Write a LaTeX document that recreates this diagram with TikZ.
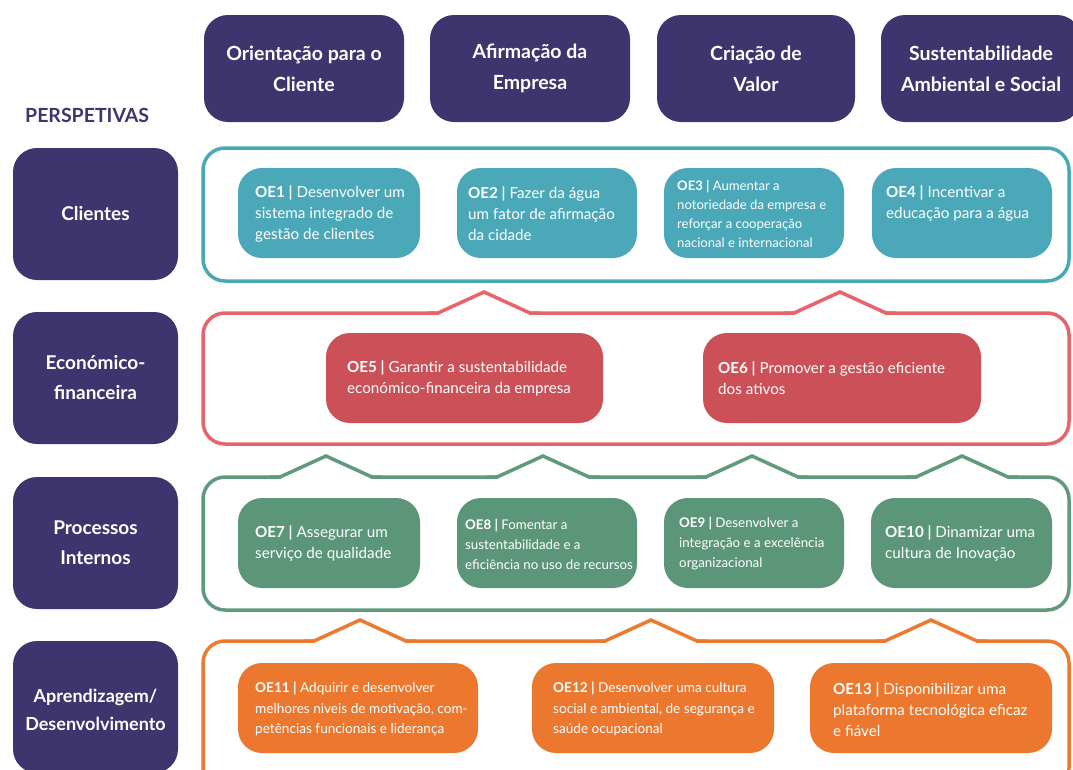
\documentclass[tikz,border=0pt]{standalone}
\usepackage{fontspec}
\setmainfont{Lato}
\definecolor{purp}{HTML}{3E356E}
\definecolor{tealf}{HTML}{4AA8B8}
\definecolor{tealb}{HTML}{49A9B7}
\definecolor{redf}{HTML}{CC5057}
\definecolor{redb}{HTML}{E9636A}
\definecolor{greenf}{HTML}{5C9679}
\definecolor{greenb}{HTML}{5E9A7B}
\definecolor{orangef}{HTML}{EC7830}
\definecolor{orangeb}{HTML}{EC7A2F}
\newcommand\mychev[3]{%
  \draw[white,line width=6pt] ({#2-45},#3) -- ({#2+45},#3);
  \draw[#1,line width=3.5pt,miter limit=10] ({#2-56},#3) -- ({#2-46},#3) -- (#2,{#3-21}) -- ({#2+46},#3) -- ({#2+56},#3);
}
\newcommand\oelab[2]{{\bfseries #1 |} #2}
\begin{document}
\begin{tikzpicture}[x=1pt,y=-1pt,
  hdr/.style={fill=purp, rounded corners=24pt, inner sep=0pt, minimum height=107pt},
  hdrtxt/.style={text=white, font=\bfseries\fontsize{19.5}{31}\selectfont, align=center, inner sep=0pt},
  sidetxt/.style={text=white, font=\bfseries\fontsize{19}{30}\selectfont, align=center, inner sep=0pt},
  side/.style={fill=purp, rounded corners=24pt, inner sep=0pt, minimum width=165pt, minimum height=132pt},
  frame/.style={line width=3.5pt, rounded corners=22pt},
  obox/.style={rounded corners=24pt, inner sep=0pt, minimum height=90pt},
  otxt/.style={text=white, anchor=west, align=left, inner sep=0pt, font=\fontsize{15.2}{21}\selectfont},
  stxt/.style={text=white, anchor=west, align=left, inner sep=0pt, font=\fontsize{13.1}{19}\selectfont},
  mtxt/.style={text=white, anchor=west, align=left, inner sep=0pt, font=\fontsize{13.6}{20.5}\selectfont}
]
\useasboundingbox (0,0) rectangle (1073,769);
\clip (0,0) rectangle (1073,769);
\fill[white] (0,0) rectangle (1073,769);

% headers
\node[hdr, minimum width=200pt] (h1) at (304,68.5) {};
\node[hdr, minimum width=200pt] (h2) at (530,68.5) {};
\node[hdr, minimum width=198pt] (h3) at (756,68.5) {};
\node[hdr, minimum width=200pt] (h4) at (981,68.5) {};
\node[hdrtxt] (h1t) at (h1) {Orientação para o\\Cliente};
\node[hdrtxt] (h2t) at (h2) {Afirmação da\\Empresa};
\node[hdrtxt] (h3t) at (h3) {Criação de\\Valor};
\node[hdrtxt] (h4t) at (h4) {Sustentabilidade\\Ambiental e Social};

\node[anchor=west, inner sep=0pt, text=purp, font=\bfseries\fontsize{19.5}{22}\selectfont] (persp) at (25,115) {PERSPETIVAS};

% side boxes
\node[side] (s1) at (95.5,214) {};
\node[side] (s2) at (95.5,378) {};
\node[side] (s3) at (95.5,543) {};
\node[side] (s4) at (95.5,707) {};
\node[sidetxt] (s1t) at (s1) {Clientes};
\node[sidetxt] (s2t) at (s2) {Económico-\\financeira};
\node[sidetxt] (s3t) at (s3) {Processos\\Internos};
\node[sidetxt, font=\bfseries\fontsize{18}{28}\selectfont] (s4t) at (95.5,710) {Aprendizagem/\\Desenvolvimento};

% frames
\draw[frame, tealb] (203,148) rectangle (1069,281);
\draw[frame, redb] (203,313) rectangle (1069,444);
\draw[frame, greenb] (203,477) rectangle (1069,610);
\draw[frame, orangeb] (203,641) rectangle (1069,790);
\mychev{redb}{484}{313}
\mychev{redb}{840}{313}
\mychev{greenb}{326}{477}
\mychev{greenb}{543}{477}
\mychev{greenb}{752}{477}
\mychev{greenb}{962}{477}
\mychev{orangeb}{360}{641}
\mychev{orangeb}{651}{641}
\mychev{orangeb}{931}{641}

% row 1
\node[obox, fill=tealf, minimum width=182pt] (b1) at (329,213) {};
\node[obox, fill=tealf, minimum width=180pt] (b2) at (547,213) {};
\node[obox, fill=tealf, minimum width=180pt] (b3) at (754,213) {};
\node[obox, fill=tealf, minimum width=180pt] (b4) at (962,213) {};
\node[otxt] (t1) at (255,214) {\oelab{OE1}{Desenvolver um}\\sistema integrado de\\gestão de clientes};
\node[otxt] (t2) at (468,214) {\oelab{OE2}{Fazer da água}\\um fator de afirmação\\da cidade};
\node[stxt] (t3) at (677,214) {\oelab{OE3}{Aumentar a}\\notoriedade da empresa e\\reforçar a cooperação\\nacional e internacional};
\node[otxt] (t4) at (886,203.5) {\oelab{OE4}{Incentivar a}\\educação para a água};

% row 2
\node[obox, fill=redf, minimum width=277pt] (b5) at (464.5,378) {};
\node[obox, fill=redf, minimum width=278pt] (b6) at (842,378) {};
\node[otxt] (t5) at (347,378.5) {\oelab{OE5}{Garantir a sustentabilidade}\\económico-financeira da empresa};
\node[otxt] (t6) at (718,378.5) {\oelab{OE6}{Promover a gestão eficiente}\\dos ativos};

% row 3
\node[obox, fill=greenf, minimum width=182pt] (b7) at (329,543) {};
\node[obox, fill=greenf, minimum width=180pt] (b8) at (547,543) {};
\node[obox, fill=greenf, minimum width=180pt] (b9) at (754,543) {};
\node[obox, fill=greenf, minimum width=181pt] (b10) at (961.5,543) {};
\node[otxt] (t7) at (255,543) {\oelab{OE7}{Assegurar um}\\serviço de qualidade};
\node[mtxt, font=\fontsize{13.3}{20}\selectfont] (t8) at (465,544) {\oelab{OE8}{Fomentar a}\\sustentabilidade e a\\eficiência no uso de recursos};
\node[mtxt, font=\fontsize{13.3}{20}\selectfont] (t9) at (679,544) {\oelab{OE9}{Desenvolver a}\\integração e a excelência\\organizacional};
\node[otxt] (t10) at (885,543.5) {\oelab{OE10}{Dinamizar uma}\\cultura de Inovação};

% row 4
\node[obox, fill=orangef, minimum width=240pt] (b11) at (358,708) {};
\node[obox, fill=orangef, minimum width=242pt] (b12) at (653,708) {};
\node[obox, fill=orangef, minimum width=242pt] (b13) at (931,708) {};
\node[mtxt] (t11) at (255,709) {\oelab{OE11}{Adquirir e desenvolver}\\melhores niveis de motivação, com-\\petências funcionais e liderança};
\node[mtxt] (t12) at (553,709) {\oelab{OE12}{Desenvolver uma cultura}\\social e ambiental, de segurança e\\saúde ocupacional};
\node[otxt] (t13) at (833,710) {\oelab{OE13}{Disponibilizar uma}\\plataforma tecnológica eficaz\\e fiável};
\end{tikzpicture}
\end{document}
